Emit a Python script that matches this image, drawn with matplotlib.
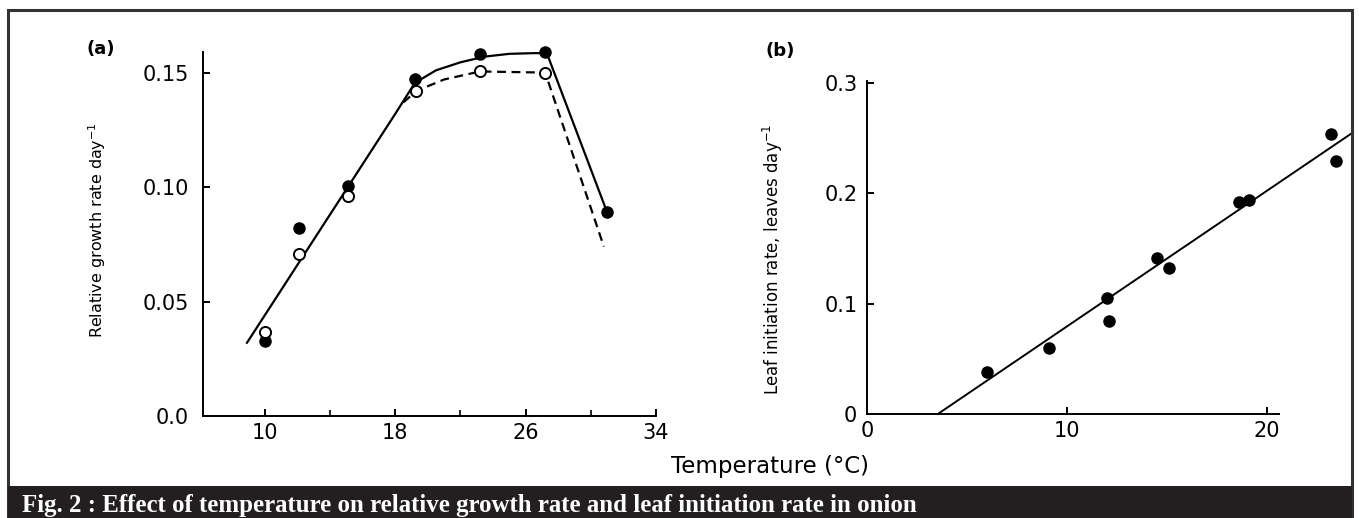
import numpy as np
import matplotlib.pyplot as plt
from matplotlib.patches import Rectangle

# panel (a): relative growth rate vs temperature
temp_a_filled = [10.0, 12.1, 15.1, 19.2, 23.2, 27.2, 31.0]
rgr_filled = [0.0327, 0.0822, 0.1003, 0.147, 0.158, 0.159, 0.0892]
temp_a_open = [10.0, 12.1, 15.1, 19.3, 23.2, 27.2]
rgr_open = [0.0365, 0.0709, 0.0963, 0.142, 0.1505, 0.150]

# fitted curves
fit_solid_x = [8.9, 18.0, 19.2, 20.5, 22.0, 23.5, 25.0, 26.5, 27.3, 31.0]
fit_solid_y = [0.032, 0.132, 0.1455, 0.151, 0.1545, 0.157, 0.1582, 0.1585, 0.1585, 0.089]
fit_dash_x = [18.5, 19.3, 21.0, 23.2, 27.2, 30.8]
fit_dash_y = [0.137, 0.142, 0.147, 0.1505, 0.150, 0.074]

# panel (b): leaf initiation rate vs temperature
temp_b = [6.0, 9.1, 12.0, 12.1, 14.5, 15.1, 18.6, 19.1, 23.2, 23.45]
lir = [0.038, 0.0594, 0.105, 0.0838, 0.141, 0.132, 0.192, 0.194, 0.254, 0.229]
fit_b_x = [3.54, 24.3]
fit_b_y = [0.0, 0.255]

W, H = 1359, 518
fig = plt.figure(figsize=(W / 100, H / 100), dpi=100)
fig.patch.set_facecolor('white')

tick_font = 15


def style_axes(ax, ypad, xpad):
    for s in ['top', 'right']:
        ax.spines[s].set_visible(False)
    for s in ['left', 'bottom']:
        ax.spines[s].set_linewidth(1.4)
    ax.tick_params(direction='in', length=5, width=1.4, labelsize=tick_font)
    ax.tick_params(axis='y', pad=ypad)
    ax.tick_params(axis='x', pad=xpad)
    ax.tick_params(which='minor', direction='in', length=4, width=1.2)
    ax.patch.set_alpha(0)


# ---- panel (a)
ax1 = fig.add_axes([203 / W, 102 / H, (656 - 203) / W, 364 / H])
ax1.plot(fit_solid_x, fit_solid_y, color='black', lw=1.6, zorder=2)
ax1.plot(fit_dash_x, fit_dash_y, color='black', lw=1.6, ls=(0, (4, 2.5)), zorder=2)
ax1.plot(temp_a_filled, rgr_filled, 'o', color='black', ms=8, clip_on=False, zorder=3)
ax1.plot(temp_a_open, rgr_open, 'o', mfc='white', mec='black', mew=1.4, ms=8,
         clip_on=False, zorder=4)
ax1.set_xlim(6.2, 34)
ax1.set_ylim(0, 0.159)
ax1.set_xticks([10, 18, 26, 34])
ax1.set_xticks([14, 22, 30], minor=True)
ax1.set_yticks([0.0, 0.05, 0.10, 0.15])
ax1.set_yticklabels(['0.0', '0.05', '0.10', '0.15'])
style_axes(ax1, ypad=10, xpad=5)

# ---- panel (b)
ax2 = fig.add_axes([867 / W, 104 / H, (24.3 * 20) / W, 333.5 / H])
ax2.plot(fit_b_x, fit_b_y, color='black', lw=1.4, clip_on=False, zorder=2)
ax2.plot(temp_b, lir, 'o', color='black', ms=8, clip_on=False, zorder=3)
ax2.set_xlim(0, 24.3)
ax2.set_ylim(0, 0.302)
ax2.set_xticks([0, 10, 20])
ax2.set_yticks([0, 0.1, 0.2, 0.3])
ax2.set_yticklabels(['0', '0.1', '0.2', '0.3'])
style_axes(ax2, ypad=7, xpad=5)
ax2.spines['bottom'].set_bounds(0, 20.6)

# axis labels and panel letters
fig.text(97 / W, 1 - 230 / H, 'Relative growth rate day$^{-1}$', fontsize=11.5,
         rotation=90, ha='center', va='center')
fig.text(773 / W, 1 - 259 / H, 'Leaf initiation rate, leaves day$^{-1}$', fontsize=12,
         rotation=90, ha='center', va='center')
fig.text(101 / W, 1 - 49 / H, '(a)', fontsize=13, fontweight='bold',
         ha='center', va='center')
fig.text(780 / W, 1 - 51 / H, '(b)', fontsize=13, fontweight='bold',
         ha='center', va='center')
fig.text(770 / W, 1 - 467 / H, 'Temperature (°C)', fontsize=16.5,
         ha='center', va='center')

# frame and caption bar
fig.patches.append(Rectangle((8 / W, 0), (1352 - 8) / W, (518 - 10) / H,
                             transform=fig.transFigure, fill=False,
                             edgecolor='#333333', lw=2.2))
fig.patches.append(Rectangle((8 / W, 0), (1352 - 8) / W, 32 / H,
                             transform=fig.transFigure, facecolor='#231f20',
                             edgecolor='none'))
fig.text(22 / W, 6 / H, 'Fig. 2 : Effect of temperature on relative growth rate and leaf initiation rate in onion',
         fontsize=17.9, fontweight='bold', family='Liberation Serif',
         color='white', ha='left', va='baseline')

fig.savefig('out.png', dpi=100)
